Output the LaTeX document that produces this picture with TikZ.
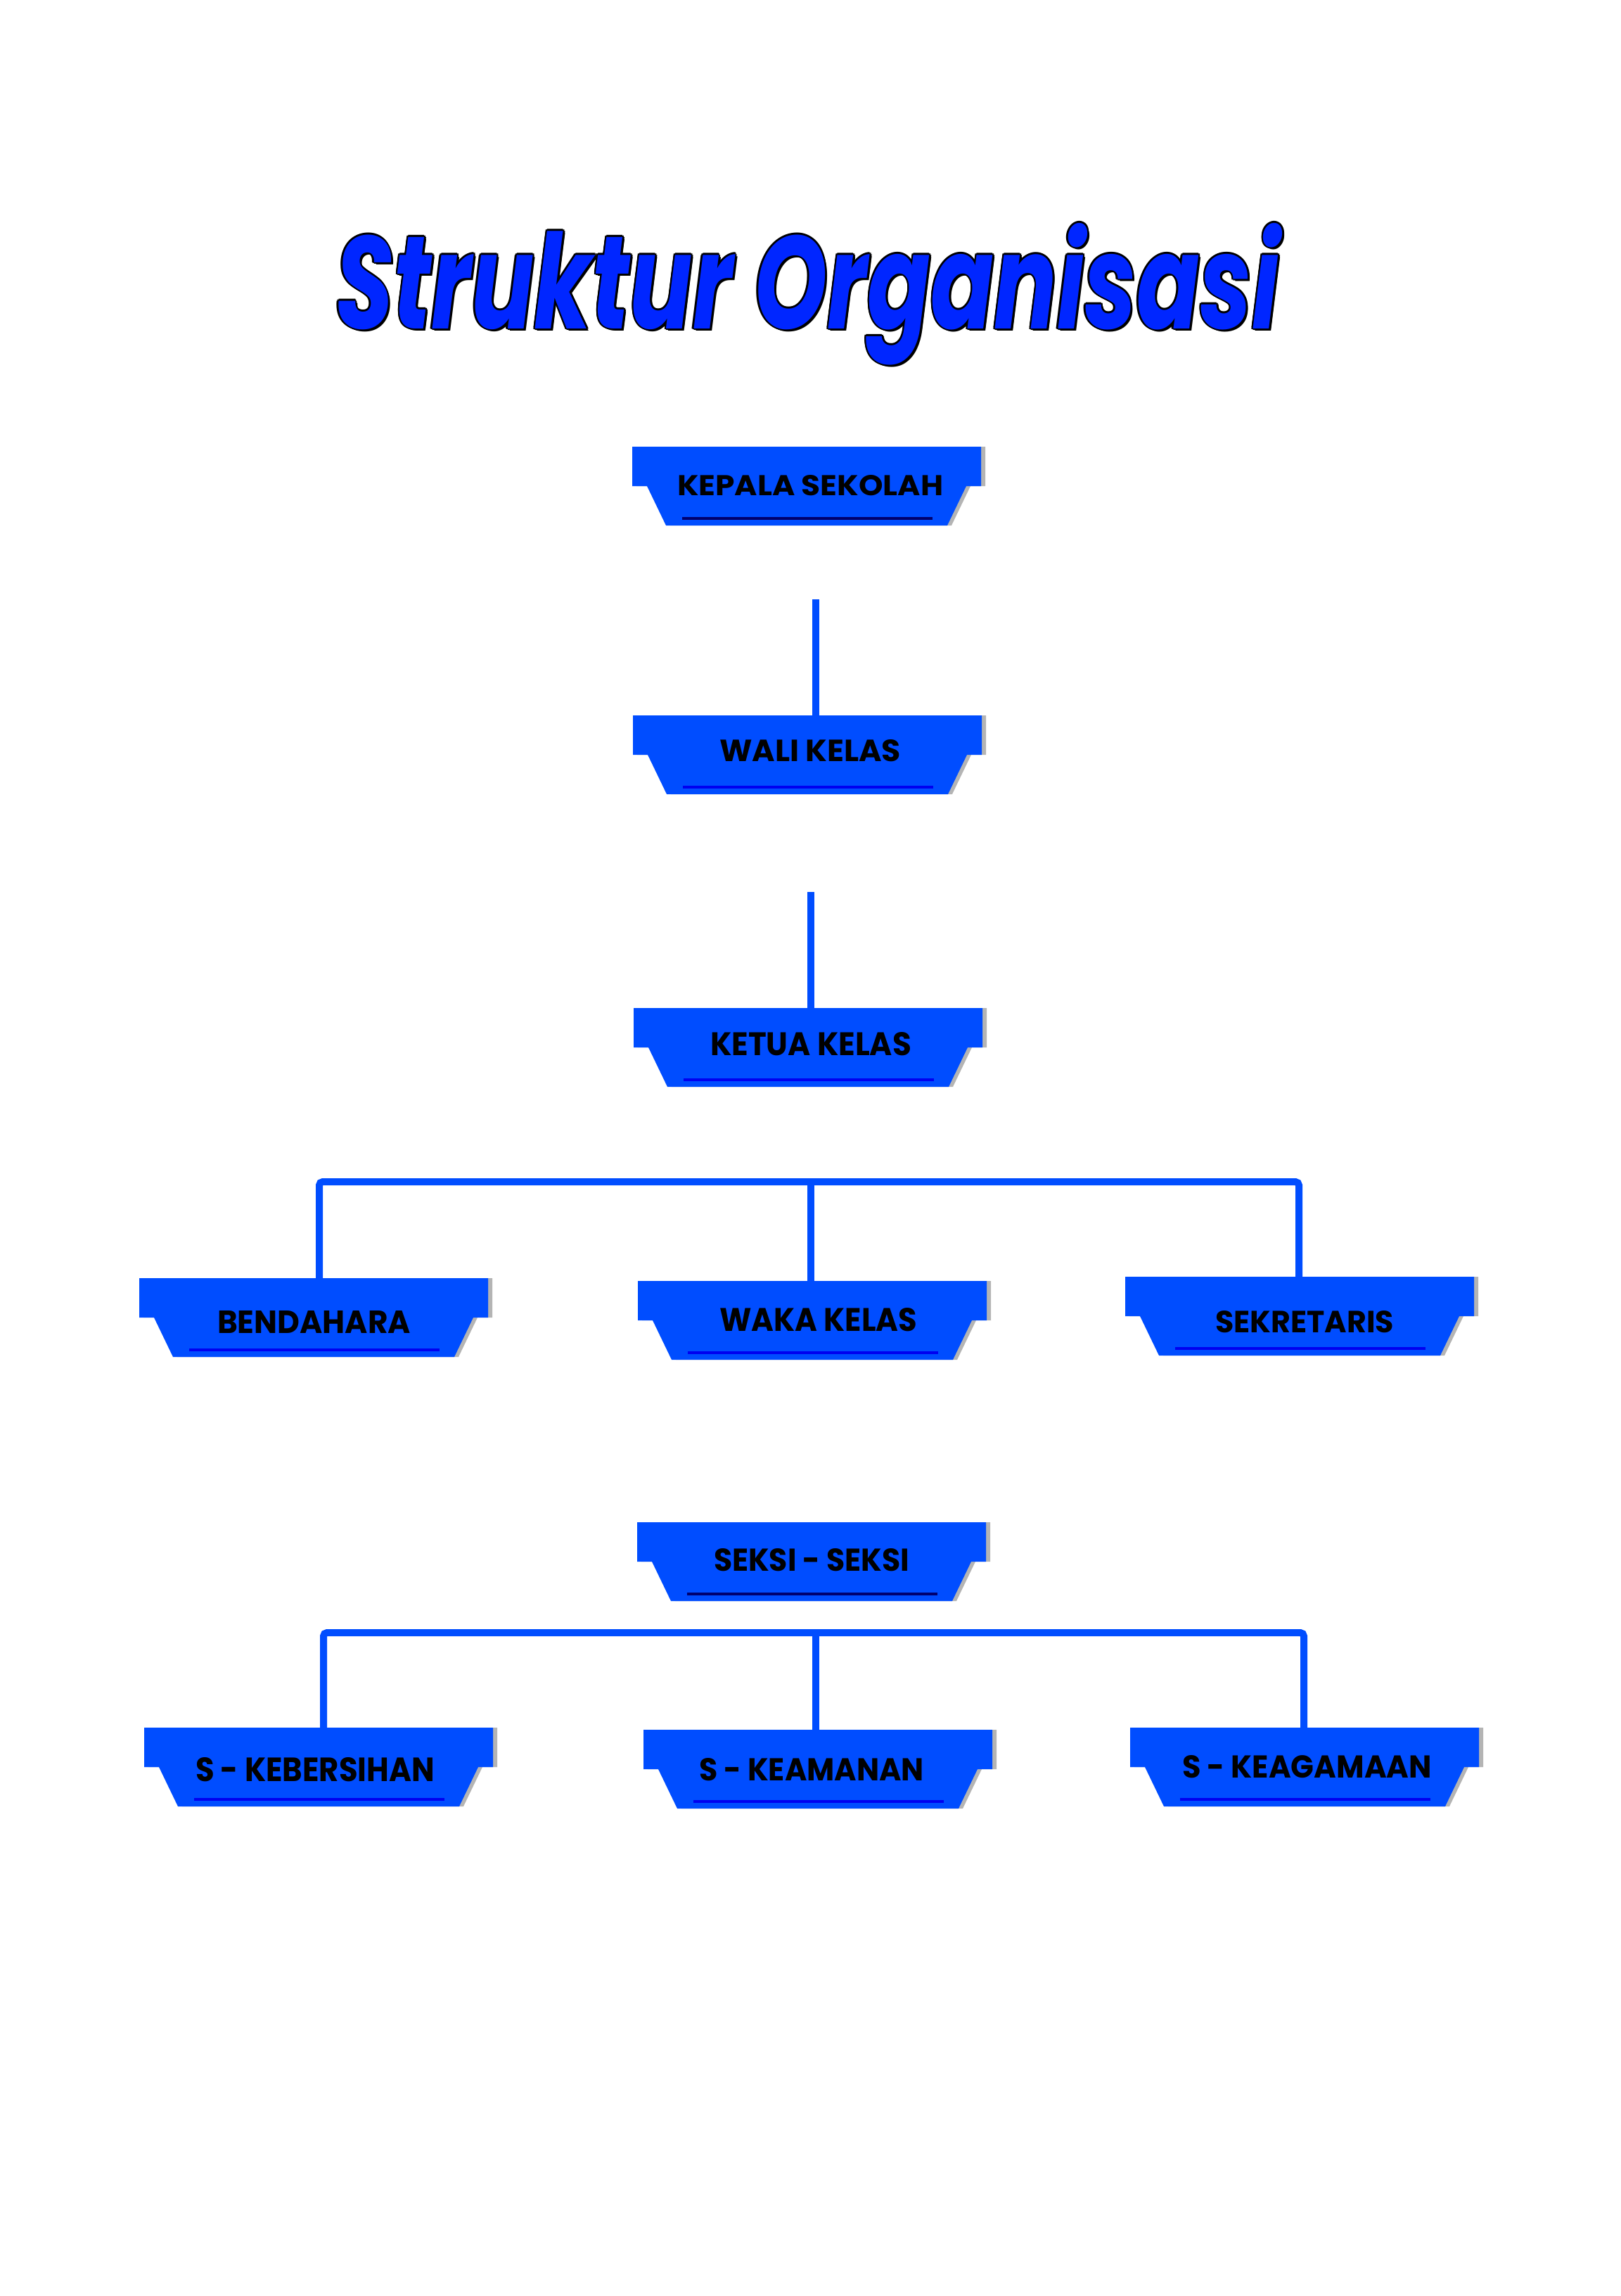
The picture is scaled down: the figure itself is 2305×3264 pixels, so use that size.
\documentclass[tikz,border=0pt]{standalone}
\usepackage{fontspec}
\setmainfont{Poppins}
\usepackage{graphicx}
\usetikzlibrary{calc}
\definecolor{boxblue}{RGB}{0,77,255}
\definecolor{titleblue}{RGB}{0,38,255}
\definecolor{ulblue}{RGB}{0,0,240}
\definecolor{ulnavy}{RGB}{0,0,110}
\definecolor{shadowgray}{RGB}{180,180,180}

\tikzset{
  boxnode/.style={draw=none, fill=none, minimum width=496pt, minimum height=112pt, inner sep=0pt, outer sep=0pt},
  lbl/.style={anchor=base west, inner sep=0pt, outer sep=0pt, text=black, font=\bfseries},
  titlenode/.style={anchor=base west, inner sep=0pt, outer sep=0pt},
  conn/.style={draw=boxblue, line width=10pt},
  bus/.style={conn, rounded corners=5pt},
}

% #1 name, #2 left, #3 top, #4 underline colour, #5 {width}{height} of label, #6 label x, #7 baseline, #8 label
\newcommand\orgbox[8]{%
  \node[boxnode] (#1) at ({#2+248},{#3+56}) {};
  \fill[shadowgray] ({#2+6},{#3}) -- ({#2+502},{#3}) -- ({#2+502},{#3+56}) -- ({#2+481},{#3+56})
     -- ({#2+454},{#3+112}) -- ({#2+54},{#3+112}) -- ({#2+27},{#3+56}) -- ({#2+6},{#3+56}) -- cycle;
  \fill[boxblue] ({#2},{#3}) -- ({#2+496},{#3}) -- ({#2+496},{#3+56}) -- ({#2+475},{#3+56})
     -- ({#2+448},{#3+112}) -- ({#2+48},{#3+112}) -- ({#2+21},{#3+56}) -- ({#2},{#3+56}) -- cycle;
  \draw[#4, line width=4pt] ({#2+71},{#3+102}) -- ({#2+427},{#3+102});
  \node[lbl] (#1-label) at (#6,#7) {\resizebox#5{#8}};
}
\newcommand\titletext{\resizebox{1342pt}{150pt}{\bfseries\itshape Struktur Organisasi}}

\begin{document}
\begin{tikzpicture}[x=1pt,y=-1pt]
  \useasboundingbox (0,0) rectangle (2305,3264);
  \fill[white] (0,0) rectangle (2305,3264);

  % title with dark outline
  \foreach \dx/\dy [count=\i] in {-2.5/0,2.5/0,0/-2.5,0/2.5,-1.8/-1.8,1.8/-1.8,-1.8/1.8,1.8/1.8,3/3}
    \node[titlenode, text=black] (title-o\i) at ({477+(\dx)},{467+(\dy)}) {\titletext};
  \node[titlenode, text=titleblue] (title) at (477,467) {\titletext};

  % boxes
  \orgbox{kepala}{899}{635}{ulnavy}{{378pt}{29pt}}{963}{704}{KEPALA SEKOLAH}
  \orgbox{wali}{900}{1017}{ulblue}{{258pt}{31pt}}{1023}{1082}{WALI KELAS}
  \orgbox{ketua}{901}{1433}{ulblue}{{286pt}{33pt}}{1010}{1500}{KETUA KELAS}
  \orgbox{bend}{198}{1817}{ulblue}{{275pt}{32pt}}{309}{1895}{BENDAHARA}
  \orgbox{waka}{907}{1821}{ulblue}{{281pt}{33pt}}{1023}{1892}{WAKA KELAS}
  \orgbox{sekr}{1600}{1815}{ulblue}{{254pt}{31pt}}{1728}{1894}{SEKRETARIS}
  \orgbox{seksi}{906}{2164}{ulnavy}{{278pt}{32pt}}{1015}{2233}{SEKSI - SEKSI}
  \orgbox{kebers}{205}{2456}{ulblue}{{340pt}{34pt}}{278}{2532}{S - KEBERSIHAN}
  \orgbox{keam}{915}{2459}{ulblue}{{320pt}{32pt}}{994}{2531}{S - KEAMANAN}
  \orgbox{keag}{1607}{2456}{ulblue}{{355pt}{32pt}}{1681}{2527}{S - KEAGAMAAN}

  % connectors
  \coordinate (c1) at (1160,852);
  \draw[conn] (c1) -- ($(c1 |- wali.north)+(0,3)$);
  \coordinate (c2) at (1153,1268);
  \draw[conn] (c2) -- ($(c2 |- ketua.north)+(0,3)$);

  \coordinate (bus1) at (1153,1680);
  \draw[bus] ($(bend.north)+(8,3)$) |- (bus1) -| ($(sekr.north)+(-1,3)$);
  \draw[conn] (bus1) -- ($(bus1 |- waka.north)+(0,3)$);

  \coordinate (bus2) at (1160,2321);
  \draw[bus] ($(kebers.north)+(7,3)$) |- (bus2) -| ($(keag.north)+(-1,3)$);
  \draw[conn] (bus2) -- ($(bus2 |- keam.north)+(0,3)$);
\end{tikzpicture}
\end{document}
